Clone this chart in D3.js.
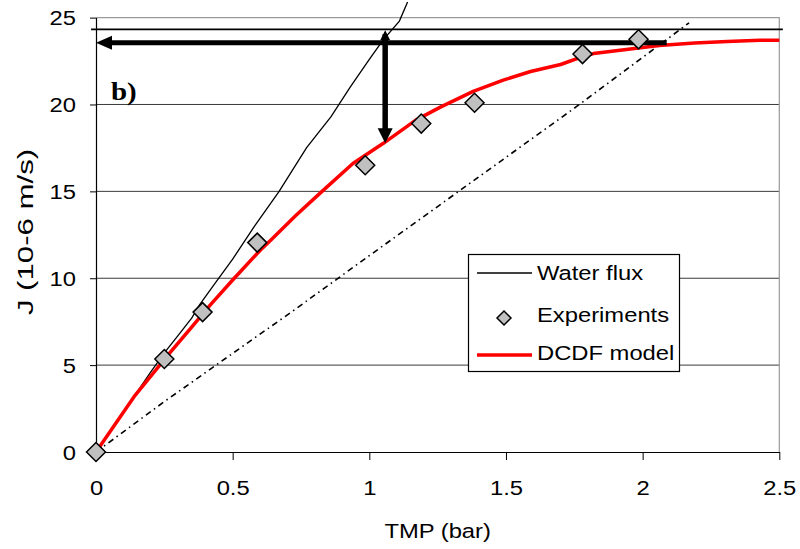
<!DOCTYPE html>
<html>
<head>
<meta charset="utf-8">
<script src="https://cdn.jsdelivr.net/npm/d3@7"></script>
<style>
  html, body { margin: 0; padding: 0; background: #fff; }
  svg { display: block; font-family: "Liberation Sans", Arial, sans-serif; }
</style>
</head>
<body>
<svg id="chart" width="800" height="549"></svg>
<script>
// Axis ticks
const xTicks = [0, 0.5, 1, 1.5, 2, 2.5];
const yTicks = [0, 5, 10, 15, 20, 25];
const xTickLabels = ["0", "0.5", "1", "1.5", "2", "2.5"];
const yTickLabels = ["0", "5", "10", "15", "20", "25"];

// Measured permeate flux (TMP in bar, J in 10-6 m/s)
const expTMP = [0, 0.25, 0.39, 0.59, 0.985, 1.19, 1.385, 1.78, 1.985];
const expJ   = [0, 5.35, 8.05, 12.05, 16.5, 18.9, 20.1, 22.9, 23.75];

// Clean water flux
const waterTMP = [0, 0.1, 0.2, 0.25, 0.3, 0.35, 0.38, 0.44, 0.5, 0.58, 0.67, 0.77, 0.86, 0.93, 1.0, 1.05, 1.11, 1.14];
const waterJ   = [0, 2.3, 4.6, 5.7, 6.7, 7.7, 8.5, 9.8, 11.1, 13.0, 15.0, 17.5, 19.3, 21.0, 22.6, 23.7, 24.8, 25.9];

// DCDF model prediction
const modelTMP = [0, 0.14, 0.27, 0.34, 0.42, 0.5, 0.6, 0.64, 0.73, 0.82, 0.94, 1.05, 1.17, 1.26, 1.38, 1.49, 1.59, 1.7, 1.77, 1.82, 1.94, 2.06, 2.19, 2.31, 2.43, 2.5];
const modelJ   = [0, 3.2, 5.7, 7.0, 8.5, 9.9, 11.6, 12.2, 13.6, 14.9, 16.6, 17.75, 19.1, 19.85, 20.75, 21.4, 21.9, 22.3, 22.7, 22.93, 23.16, 23.4, 23.54, 23.63, 23.69, 23.69];

// Dash-dot reference line
const refTMP = [0, 0.25, 0.43, 0.71, 1.0, 1.38, 1.76, 2.17];
const refJ   = [0, 2.9, 4.9, 8.0, 11.3, 15.6, 19.9, 24.7];

// Limiting flux line and reading arrows
const limitLineTMP = [-0.018, 2.513];
const limitLineJ = 24.32;
const hArrowTMP = [2.088, 0];
const hArrowJ = 23.55;
const vArrowTMP = 1.058;
const vArrowJ = [24.27, 17.77];

const legendLabels = ["Water flux", "Experiments", "DCDF model"];

const SX = 1.16;           // horizontal widening of the lettering
const FS = 20.5;

const svg = d3.select("#chart");
const margin = { left: 96, top: 17.6, right: 779.3, bottom: 452 };

const x = d3.scaleLinear().domain([0, 2.5]).range([margin.left, margin.right]);
const y = d3.scaleLinear().domain([0, 25]).range([margin.bottom, margin.top]);

// Horizontal gridlines
svg.append("g").selectAll("line")
  .data(yTicks.filter(v => v > 0 && v < 25))
  .join("line")
  .attr("x1", x(0)).attr("x2", x(2.5))
  .attr("y1", d => y(d)).attr("y2", d => y(d))
  .attr("stroke", "#3a3a3a").attr("stroke-width", 1);

// Plot area frame (top and right)
svg.append("path")
  .attr("d", `M${x(0)},${y(25)}H${x(2.5)}V${y(0)}`)
  .attr("fill", "none").attr("stroke", "#9a9a9a").attr("stroke-width", 1.2);

// Axes
const xAxis = d3.axisBottom(x).tickValues(xTicks).tickSize(8).tickSizeOuter(0)
  .tickFormat((d, i) => xTickLabels[i]);
const yAxis = d3.axisLeft(y).tickValues(yTicks).tickSize(6).tickSizeOuter(0)
  .tickFormat((d, i) => yTickLabels[i]);

const gx = svg.append("g").attr("transform", `translate(0,${y(0)})`).call(xAxis);
const gy = svg.append("g").attr("transform", `translate(${x(0)},0)`).call(yAxis);
[gx, gy].forEach(g => {
  g.select(".domain").attr("stroke", "#000").attr("stroke-width", 1.2);
  g.selectAll(".tick line").attr("stroke", "#000").attr("stroke-width", 1);
  g.selectAll("text").attr("font-size", FS).attr("fill", "#000")
    .attr("font-family", "'Liberation Sans', Arial, sans-serif");
});
gx.selectAll(".tick text")
  .attr("y", null).attr("dy", null)
  .attr("transform", `translate(0,43) scale(${SX},1)`);
gy.selectAll(".tick text")
  .attr("x", null).attr("dy", "0.36em")
  .attr("transform", `translate(-20,0) scale(${SX},1)`);

// Axis titles
svg.append("text")
  .attr("transform", `translate(${(x(0) + x(2.5)) / 2},538) scale(${SX},1)`)
  .attr("text-anchor", "middle").attr("font-size", FS)
  .text("TMP (bar)");
svg.append("text")
  .attr("transform", `translate(33,232) rotate(-90) scale(1.45,1)`)
  .attr("text-anchor", "middle").attr("font-size", 21.5)
  .text("J (10-6 m/s)");

const line = d3.line().x(d => x(d[0])).y(d => y(d[1]));

// Dash-dot reference line
svg.append("path")
  .datum(refTMP.map((t, i) => [t, refJ[i]]))
  .attr("d", line)
  .attr("fill", "none").attr("stroke", "#000").attr("stroke-width", 1.6)
  .attr("stroke-dasharray", "6,4,1.5,4");

// Water flux
svg.append("path")
  .datum(waterTMP.map((t, i) => [t, waterJ[i]]))
  .attr("d", line)
  .attr("fill", "none").attr("stroke", "#000").attr("stroke-width", 1.3);

// DCDF model
svg.append("path")
  .datum(modelTMP.map((t, i) => [t, modelJ[i]]))
  .attr("d", line)
  .attr("fill", "none").attr("stroke", "#ff0000").attr("stroke-width", 3.5)
  .attr("stroke-linejoin", "round");

// Limiting flux line
svg.append("line")
  .attr("x1", x(limitLineTMP[0])).attr("x2", x(limitLineTMP[1]))
  .attr("y1", y(limitLineJ)).attr("y2", y(limitLineJ))
  .attr("stroke", "#000").attr("stroke-width", 1.8);

// Horizontal reading arrow
const hy = y(hArrowJ);
svg.append("line")
  .attr("x1", x(hArrowTMP[0])).attr("x2", x(hArrowTMP[1]) + 14)
  .attr("y1", hy).attr("y2", hy)
  .attr("stroke", "#000").attr("stroke-width", 5);
svg.append("path")
  .attr("d", `M${x(hArrowTMP[1])},${hy}L${x(hArrowTMP[1]) + 16},${hy - 7}L${x(hArrowTMP[1]) + 16},${hy + 7}Z`)
  .attr("fill", "#000");

// Vertical reading arrow
const vx = x(vArrowTMP);
const vTop = y(vArrowJ[0]), vTip = y(vArrowJ[1]);
svg.append("line")
  .attr("x1", vx).attr("x2", vx)
  .attr("y1", vTop + 4).attr("y2", vTip - 13)
  .attr("stroke", "#000").attr("stroke-width", 5.5);
svg.append("path")
  .attr("d", `M${vx},${vTip}L${vx - 7.5},${vTip - 15}L${vx + 7.5},${vTip - 15}Z`)
  .attr("fill", "#000");
svg.append("path")
  .attr("d", `M${vx},${vTop}L${vx - 5},${vTop + 10}L${vx + 5},${vTop + 10}Z`)
  .attr("fill", "#000");

// Experimental points
const diamond = r => `M0,${-r}L${r},0L0,${r}L${-r},0Z`;
svg.append("g").selectAll("path")
  .data(expTMP.map((t, i) => [t, expJ[i]]))
  .join("path")
  .attr("transform", d => `translate(${x(d[0])},${y(d[1])})`)
  .attr("d", diamond(9.5))
  .attr("fill", "#c0c0c0").attr("stroke", "#000").attr("stroke-width", 1.5);

// Panel label
svg.append("text")
  .attr("transform", `translate(111,100) scale(${SX},1)`)
  .attr("font-family", "'Liberation Serif', 'Times New Roman', serif")
  .attr("font-weight", "bold").attr("font-size", 25)
  .text("b)");

// Legend
const lg = svg.append("g");
lg.append("rect")
  .attr("x", 468.5).attr("y", 254.5).attr("width", 211).attr("height", 117)
  .attr("fill", "#fff").attr("stroke", "#000").attr("stroke-width", 1.2);
const rowsY = [273, 318, 355];
const textBase = [280, 322, 360];
lg.append("line").attr("x1", 477).attr("x2", 532).attr("y1", rowsY[0]).attr("y2", rowsY[0])
  .attr("stroke", "#000").attr("stroke-width", 1.3);
lg.append("path").attr("transform", `translate(504,${rowsY[1]})`).attr("d", diamond(7))
  .attr("fill", "#c0c0c0").attr("stroke", "#000").attr("stroke-width", 1.5);
lg.append("line").attr("x1", 477).attr("x2", 532).attr("y1", rowsY[2]).attr("y2", rowsY[2])
  .attr("stroke", "#ff0000").attr("stroke-width", 3.5);
legendLabels.forEach((s, i) => {
  lg.append("text")
    .attr("transform", `translate(537,${textBase[i]}) scale(${SX},1)`)
    .attr("font-size", FS).text(s);
});
</script>
</body>
</html>
